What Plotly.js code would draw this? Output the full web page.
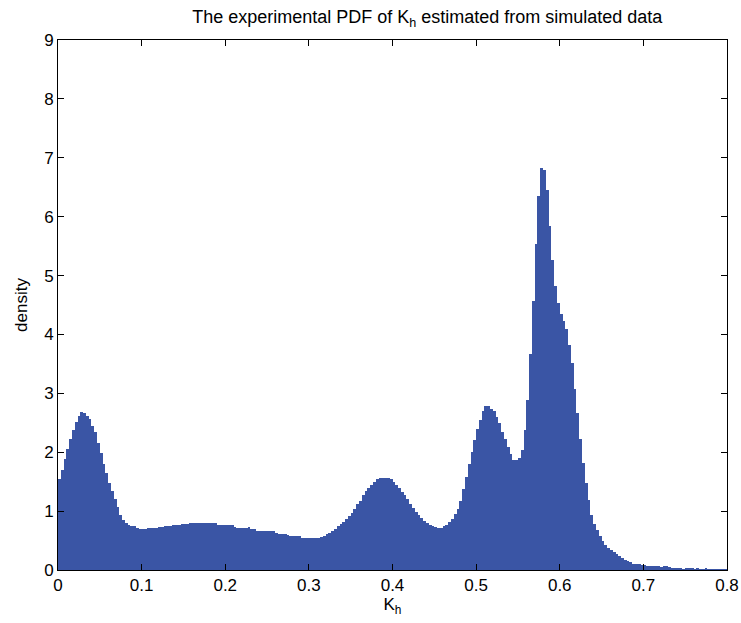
<!DOCTYPE html>
<html>
<head>
<meta charset="utf-8">
<script src="https://cdn.plot.ly/plotly-3.0.1.min.js"></script>
<style>html,body{margin:0;padding:0;background:#fff;}#chart{width:741px;height:623px;}</style>
</head>
<body>
<div id="chart"></div>
<script>
// Histogram: 240 bins of equal width over [0, 0.8]
const binStart = 0;
const binEnd = 0.8;
const binCount = 240;
const density = [
  1.54,1.70,1.88,2.06,2.22,2.38,2.52,2.61,2.69,2.67,
  2.62,2.56,2.45,2.35,2.16,1.98,1.80,1.64,1.48,1.34,
  1.20,1.07,0.94,0.85,0.80,0.76,0.75,0.74,0.71,0.69,
  0.69,0.69,0.71,0.72,0.72,0.72,0.73,0.73,0.74,0.75,
  0.75,0.76,0.76,0.77,0.78,0.78,0.78,0.79,0.79,0.79,
  0.80,0.80,0.80,0.80,0.80,0.80,0.79,0.76,0.76,0.76,
  0.76,0.76,0.76,0.73,0.72,0.72,0.72,0.72,0.73,0.70,
  0.69,0.67,0.67,0.67,0.66,0.67,0.67,0.66,0.63,0.61,
  0.61,0.61,0.60,0.58,0.58,0.58,0.57,0.55,0.54,0.54,
  0.54,0.54,0.54,0.55,0.56,0.58,0.61,0.63,0.66,0.70,
  0.74,0.78,0.81,0.87,0.92,0.97,1.03,1.12,1.18,1.27,
  1.34,1.40,1.45,1.50,1.55,1.57,1.57,1.57,1.57,1.54,
  1.49,1.44,1.39,1.33,1.27,1.20,1.12,1.06,0.99,0.93,
  0.88,0.84,0.80,0.77,0.75,0.73,0.72,0.72,0.74,0.77,
  0.81,0.87,0.95,1.04,1.18,1.38,1.58,1.80,2.00,2.20,
  2.40,2.55,2.70,2.78,2.79,2.74,2.70,2.60,2.50,2.35,
  2.22,2.09,1.97,1.86,1.86,1.91,2.04,2.38,2.89,3.67,
  4.57,5.53,6.35,6.82,6.79,6.46,5.84,5.26,4.82,4.53,
  4.35,4.22,4.09,3.82,3.51,3.07,2.66,2.22,1.81,1.47,
  1.19,0.93,0.78,0.68,0.58,0.50,0.43,0.38,0.34,0.30,
  0.27,0.23,0.20,0.17,0.15,0.13,0.11,0.10,0.10,0.09,
  0.09,0.07,0.06,0.06,0.06,0.06,0.05,0.06,0.06,0.05,
  0.03,0.03,0.03,0.03,0.02,0.03,0.03,0.03,0.02,0.03,
  0.02,0.02,0.03,0.02,0.02,0.02,0.02,0.02,0.02,0.02
];
const xTicks = [0, 0.1, 0.2, 0.3, 0.4, 0.5, 0.6, 0.7, 0.8];
const xTickText = ['0', '0.1', '0.2', '0.3', '0.4', '0.5', '0.6', '0.7', '0.8'];
const yTicks = [0, 1, 2, 3, 4, 5, 6, 7, 8, 9];

const binW = (binEnd - binStart) / binCount;
const centers = density.map((_, i) => binStart + (i + 0.5) * binW);

const font = 'Liberation Sans, Arial, Helvetica, sans-serif';
const trace = {
  type: 'bar',
  x: centers,
  y: density,
  width: binW,
  marker: {color: '#3A55A5', line: {width: 0}},
  hoverinfo: 'x+y'
};
const axisCommon = {
  showgrid: false, zeroline: false, showline: true, linecolor: '#000', linewidth: 1,
  mirror: 'allticks', ticks: 'inside', ticklen: 6, tickcolor: '#000', tickwidth: 1,
  tickfont: {family: font, size: 17, color: '#000'}
};
const layout = {
  width: 741, height: 623,
  margin: {l: 58, r: 14, t: 40, b: 53},
  paper_bgcolor: '#fff', plot_bgcolor: '#fff',
  bargap: 0,
  showlegend: false,
  title: {
    text: 'The experimental PDF of K<sub>h</sub> estimated from simulated data',
    font: {family: font, size: 18, color: '#000'},
    x: 0.552, xref: 'paper', xanchor: 'center',
    y: 0.973, yref: 'container', yanchor: 'middle'
  },
  xaxis: Object.assign({}, axisCommon, {
    range: [0, 0.8], tickvals: xTicks, ticktext: xTickText,
    title: {text: 'K<sub>h</sub>', font: {family: font, size: 17, color: '#000'}, standoff: 2}
  }),
  yaxis: Object.assign({}, axisCommon, {
    range: [0, 9], tickvals: yTicks,
    title: {text: 'density', font: {family: font, size: 17, color: '#000'}, standoff: 12}
  })
};
Plotly.newPlot('chart', [trace], layout, {displayModeBar: false, staticPlot: true});
</script>
</body>
</html>
